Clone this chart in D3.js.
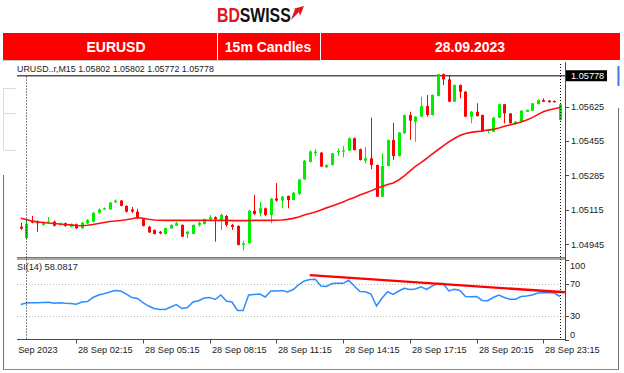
<!DOCTYPE html>
<meta charset="utf-8">
<head>
<meta charset="utf-8">
<title>EURUSD 15m Candles</title>
<style>
body { margin: 0; background: #fff; }
svg text { font-family: 'Liberation Sans', Arial, sans-serif; }
</style>
</head>
<body>
<div id="chart"></div>
<script src="https://cdn.jsdelivr.net/npm/d3@7/dist/d3.min.js"></script>
<script>

// bar 0 = 27 Sep 23:45, bar 1 = 28 Sep 00:00 ... bar 97 = 29 Sep 00:00 (M15)
var open = [1.05032,1.04976,1.05062,1.05057,1.05041,1.05053,1.05057,1.05041,1.05049,1.05032,
  1.05044,1.05024,1.05049,1.05057,1.05101,1.05118,1.05118,1.05153,1.05161,1.05135,
  1.05117,1.05106,1.05069,1.05032,1.05016,1.05007,1.04996,1.05024,1.05037,1.05041,
  1.04996,1.04996,1.05041,1.05045,1.05069,1.05079,1.05065,1.05085,1.05041,1.05036,
  1.04942,1.04950,1.05111,1.05098,1.05123,1.05090,1.05172,1.05161,1.05184,1.05164,
  1.05194,1.05266,1.05352,1.05395,1.05398,1.05326,1.05337,1.05401,1.05404,1.05408,
  1.05469,1.05415,1.05358,1.05370,1.05337,1.05180,1.05332,1.05460,1.05381,1.05494,
  1.05584,1.05551,1.05576,1.05628,1.05584,1.05678,1.05786,1.05760,1.05650,1.05732,
  1.05699,1.05576,1.05600,1.05584,1.05505,1.05501,1.05571,1.05637,1.05592,1.05539,
  1.05551,1.05600,1.05605,1.05638,1.05658,1.05655,1.05653,1.05559]
var high = [1.05052,1.05065,1.05085,1.05063,1.05058,1.05080,1.05063,1.05053,1.05053,1.05048,
  1.05048,1.05055,1.05070,1.05105,1.05122,1.05127,1.05154,1.05167,1.05164,1.05137,
  1.05129,1.05120,1.05073,1.05036,1.05018,1.05011,1.05028,1.05043,1.05057,1.05043,
  1.05011,1.05043,1.05057,1.05073,1.05090,1.05083,1.05098,1.05090,1.05045,1.05038,
  1.04962,1.05115,1.05189,1.05156,1.05127,1.05174,1.05247,1.05184,1.05186,1.05204,
  1.05268,1.05362,1.05409,1.05416,1.05401,1.05339,1.05396,1.05419,1.05431,1.05473,
  1.05473,1.05418,1.05426,1.05571,1.05339,1.05395,1.05463,1.05546,1.05500,1.05586,
  1.05600,1.05579,1.05674,1.05683,1.05685,1.05786,1.05789,1.05782,1.05735,1.05735,
  1.05703,1.05604,1.05642,1.05586,1.05515,1.05574,1.05638,1.05638,1.05594,1.05554,
  1.05609,1.05611,1.05643,1.05661,1.05666,1.05658,1.05656,1.05641]
var low = [1.05016,1.04971,1.05049,1.05007,1.05036,1.05048,1.05033,1.05036,1.05031,1.05028,
  1.05021,1.05021,1.05045,1.05053,1.05097,1.05115,1.05115,1.05149,1.05132,1.05102,
  1.05100,1.05070,1.05033,1.05001,1.04994,1.04994,1.04994,1.05021,1.05036,1.04981,
  1.04975,1.04994,1.05032,1.05043,1.05065,1.04958,1.05016,1.05032,1.05016,1.04939,
  1.04914,1.04947,1.05090,1.05082,1.05085,1.05049,1.05156,1.05123,1.05123,1.05162,
  1.05189,1.05263,1.05349,1.05381,1.05327,1.05322,1.05334,1.05381,1.05375,1.05406,
  1.05409,1.05359,1.05345,1.05316,1.05179,1.05179,1.05330,1.05362,1.05379,1.05490,
  1.05460,1.05452,1.05574,1.05576,1.05581,1.05675,1.05732,1.05648,1.05648,1.05666,
  1.05574,1.05543,1.05576,1.05500,1.05495,1.05500,1.05569,1.05543,1.05542,1.05535,
  1.05549,1.05599,1.05604,1.05636,1.05648,1.05646,1.05646,1.05557]
var close = [1.05022,1.05045,1.05052,1.05049,1.05054,1.05058,1.05037,1.05049,1.05036,1.05044,
  1.05024,1.05052,1.05065,1.05101,1.05118,1.05123,1.05151,1.05161,1.05135,1.05106,
  1.05107,1.05074,1.05036,1.05004,1.04996,1.04999,1.05024,1.05041,1.05049,1.04983,
  1.05007,1.05041,1.05052,1.05069,1.05079,1.05069,1.05090,1.05041,1.05031,1.04942,
  1.04950,1.05111,1.05095,1.05123,1.05090,1.05170,1.05161,1.05180,1.05164,1.05200,
  1.05266,1.05358,1.05404,1.05403,1.05329,1.05337,1.05395,1.05406,1.05409,1.05469,
  1.05411,1.05362,1.05370,1.05337,1.05180,1.05332,1.05460,1.05381,1.05497,1.05584,
  1.05556,1.05576,1.05628,1.05584,1.05683,1.05786,1.05760,1.05650,1.05732,1.05699,
  1.05576,1.05600,1.05579,1.05501,1.05512,1.05571,1.05637,1.05592,1.05543,1.05551,
  1.05605,1.05609,1.05642,1.05658,1.05650,1.05647,1.05647,1.05637]
var movingAvg = [1.05074,1.05068,1.05060,1.05056,1.05053,1.05050,1.05048,1.05045,1.05043,1.05041,
  1.05038,1.05037,1.05039,1.05043,1.05048,1.05053,1.05058,1.05060,1.05063,1.05066,
  1.05071,1.05077,1.05074,1.05069,1.05065,1.05064,1.05063,1.05063,1.05063,1.05063,
  1.05063,1.05063,1.05063,1.05063,1.05063,1.05063,1.05063,1.05063,1.05062,1.05062,
  1.05062,1.05062,1.05063,1.05063,1.05063,1.05063,1.05064,1.05065,1.05068,1.05073,
  1.05080,1.05090,1.05097,1.05105,1.05115,1.05125,1.05134,1.05144,1.05154,1.05167,
  1.05176,1.05189,1.05199,1.05209,1.05221,1.05231,1.05241,1.05248,1.05263,1.05283,
  1.05307,1.05330,1.05349,1.05369,1.05391,1.05411,1.05431,1.05451,1.05468,1.05483,
  1.05493,1.05498,1.05502,1.05505,1.05510,1.05513,1.05520,1.05528,1.05535,1.05542,
  1.05549,1.05559,1.05571,1.05586,1.05600,1.05609,1.05615,1.05621]
var rsi = [44.0,45.9,46.3,46.3,46.5,46.8,45.5,46.3,45.5,45.3,
  44.3,47.2,47.8,52.8,56.0,57.6,59.7,61.6,61.0,57.2,
  52.8,51.6,46.5,42.1,39.0,37.7,37.7,40.9,44.0,39.0,
  40.3,47.2,48.8,52.2,52.8,50.3,56.0,48.4,47.2,36.5,
  36.5,56.0,56.6,57.2,53.5,61.0,61.0,61.6,59.7,62.9,
  68.6,73.6,75.5,75.7,67.3,66.7,70.4,70.7,70.7,74.5,
  67.3,60.4,60.1,57.2,42.1,52.2,60.1,56.6,61.0,64.4,
  62.9,63.5,66.4,63.1,67.3,70.4,70.4,61.0,63.1,61.6,
  54.1,53.8,54.1,49.1,48.8,52.8,56.0,52.8,50.6,50.6,
  54.1,54.7,56.0,58.5,58.9,58.9,58.5,54.1]

// RSI trend line: [bar, value]
var rsiTrend = [[52, 81.0], [97.9, 59.4]]

var priceTicks = [1.05625, 1.05455, 1.05285, 1.05115, 1.04945]
var lastPrice = 1.05778
var rsiTicks = [100, 70, 30, 0]
var rsiLevels = [70, 30]
var timeTicks = ['02:15', '05:15', '08:15', '11:15', '14:15', '17:15', '20:15', '23:15']
var firstDateLabel = '28 Sep 2023'
var separatorBars = [1, 97]

var headerText = 'URUSD..r,M15  1.05802 1.05802 1.05772 1.05778'
var rsiText = 'SI(14) 58.0817'
var banner = [
  {label: 'EURUSD', x0: 3, x1: 217, cx: 116},
  {label: '15m Candles', x0: 217, x1: 320, cx: 268},
  {label: '28.09.2023', x0: 320, x1: 620, cx: 470}
]

var width = 624, height = 373
var left = 17, right = 565
var bull = '#00ee00', bear = '#ff0000', axisCol = '#4a4a4a'

var svg = d3.select('#chart').append('svg')
  .attr('width', width).attr('height', height)

var x = d3.scaleLinear().domain([-0.665, 97.906]).range([left, right])
var y = d3.scaleLinear().domain([1.04945, 1.05625]).range([244.3, 106.7])
var yR = d3.scaleLinear().domain([0, 100]).range([339.5, 260])

function px(i) { return Math.round(x(i)) + 0.5 }
function barOf(t) { var p = t.split(':'); return 1 + (+p[0] * 60 + +p[1]) / 15 }

// logo
var logo = svg.append('text').attr('transform', 'translate(217,22) scale(0.81,1)')
  .attr('font-size', 19.5).attr('font-weight', 'bold')
logo.append('tspan').attr('fill', '#e3161c').text('BD')
logo.append('tspan').attr('fill', '#111').text('SWISS')
svg.append('path').attr('d', 'M291,20 L295,9 L293,9 L304,6 L300,16 L299,12 Z').attr('fill', '#e3161c')

// red banner
svg.selectAll('.cell').data(banner).enter().append('rect')
  .attr('class', 'cell')
  .attr('x', function (d) { return d.x0 }).attr('y', 33)
  .attr('width', function (d) { return d.x1 - d.x0 }).attr('height', 27)
  .attr('fill', '#ff0000')
svg.selectAll('.divider').data(banner.slice(1)).enter().append('line')
  .attr('x1', function (d) { return d.x0 + 0.5 }).attr('x2', function (d) { return d.x0 + 0.5 })
  .attr('y1', 33).attr('y2', 60).attr('stroke', '#fff')
svg.selectAll('.blabel').data(banner).enter().append('text')
  .attr('x', function (d) { return d.cx }).attr('y', 51.5)
  .attr('text-anchor', 'middle').attr('font-size', 14).attr('font-weight', 'bold')
  .attr('fill', '#fff').text(function (d) { return d.label })
svg.append('line').attr('x1', 3).attr('x2', 320).attr('y1', 60.5).attr('y2', 60.5).attr('stroke', '#c8c8c8')

// window frame fragments
var frame = svg.append('g').attr('stroke', '#707070').attr('fill', 'none')
frame.append('line').attr('x1', 3.5).attr('x2', 3.5).attr('y1', 175).attr('y2', 369)
frame.append('line').attr('x1', 3).attr('x2', 619).attr('y1', 369.5).attr('y2', 369.5).attr('stroke', '#8a8a8a')
frame.append('line').attr('x1', 618.5).attr('x2', 618.5).attr('y1', 108).attr('y2', 369)
frame.append('line').attr('x1', 618.5).attr('x2', 618.5).attr('y1', 66).attr('y2', 86)
  .attr('stroke', '#3b7dd8').attr('stroke-width', 2)
svg.append('path').attr('d', 'M3.5,88.5 H16 M3.5,113.5 H16 M3.5,150.5 H16 M3.5,88 V150')
  .attr('stroke', '#dcdcdc').attr('fill', 'none')

// header text
svg.append('text').attr('x', left).attr('y', 72).attr('font-size', 8.9).attr('fill', '#222').text(headerText)

// clip for main panel
svg.append('clipPath').attr('id', 'mainClip').append('rect')
  .attr('x', left).attr('y', 62).attr('width', right - left).attr('height', 195)

// current price line
svg.append('line').attr('x1', left).attr('x2', right).attr('y1', y(lastPrice)).attr('y2', y(lastPrice))
  .attr('stroke', '#555').attr('stroke-width', 1.5)

var bars = d3.range(open.length)
var main = svg.append('g').attr('clip-path', 'url(#mainClip)')

main.selectAll('.wick').data(bars).enter().append('line')
  .attr('x1', px).attr('x2', px)
  .attr('y1', function (i) { return y(high[i]) }).attr('y2', function (i) { return y(low[i]) })
  .attr('stroke', function (i) { return close[i] >= open[i] ? bull : bear })

main.selectAll('.body').data(bars).enter().append('rect')
  .attr('x', function (i) { return Math.round(x(i)) - 1 })
  .attr('width', 3)
  .attr('y', function (i) { return Math.min(y(open[i]), y(close[i])) })
  .attr('height', function (i) { return Math.max(1.2, Math.abs(y(open[i]) - y(close[i]))) })
  .attr('fill', function (i) { return close[i] >= open[i] ? bull : bear })

main.append('path').datum(bars)
  .attr('d', d3.line().x(function (i) { return x(i) }).y(function (i) { return y(movingAvg[i]) }))
  .attr('fill', 'none').attr('stroke', '#ff1010').attr('stroke-width', 1.6)

// panel separator
svg.append('rect').attr('x', left).attr('y', 257).attr('width', right - left + 1).attr('height', 3).attr('fill', '#a8a8a8')
svg.append('line').attr('x1', left).attr('x2', right).attr('y1', 257.5).attr('y2', 257.5).attr('stroke', '#777')

// RSI panel
svg.selectAll('.lvl').data(rsiLevels).enter().append('line')
  .attr('x1', left).attr('x2', right)
  .attr('y1', function (d) { return Math.round(yR(d)) + 0.5 }).attr('y2', function (d) { return Math.round(yR(d)) + 0.5 })
  .attr('stroke', '#bdbdbd').attr('stroke-dasharray', '1,2')

svg.append('path').datum(bars)
  .attr('d', d3.line().x(function (i) { return x(i) }).y(function (i) { return yR(rsi[i]) }))
  .attr('fill', 'none').attr('stroke', '#2d8cff').attr('stroke-width', 1.5)

svg.append('line')
  .attr('x1', x(rsiTrend[0][0])).attr('y1', yR(rsiTrend[0][1]))
  .attr('x2', x(rsiTrend[1][0])).attr('y2', yR(rsiTrend[1][1]))
  .attr('stroke', '#ff0000').attr('stroke-width', 2.4)

svg.append('text').attr('x', left).attr('y', 269.5).attr('font-size', 9.2).attr('fill', '#222').text(rsiText)

// day separators
svg.selectAll('.sep').data(separatorBars).enter().append('line')
  .attr('x1', px).attr('x2', px)
  .attr('y1', function (d, k) { return k === 0 ? 76.5 : 64 }).attr('y2', 339)
  .attr('stroke', '#111').attr('stroke-dasharray', '1,2')

// axes frame
svg.append('line').attr('x1', right + 0.5).attr('x2', right + 0.5).attr('y1', 62).attr('y2', 340)
  .attr('stroke', axisCol)
svg.append('line').attr('x1', left).attr('x2', right + 1).attr('y1', 339.5).attr('y2', 339.5)
  .attr('stroke', axisCol)

// price axis
var pa = svg.append('g')
pa.selectAll('line').data(priceTicks).enter().append('line')
  .attr('x1', right).attr('x2', right + 4)
  .attr('y1', function (d) { return Math.round(y(d)) + 0.5 }).attr('y2', function (d) { return Math.round(y(d)) + 0.5 })
  .attr('stroke', axisCol)
pa.selectAll('text').data(priceTicks).enter().append('text')
  .attr('x', right + 6).attr('y', function (d) { return y(d) + 3.3 })
  .attr('font-size', 9.2).attr('fill', '#1a1a1a').text(function (d) { return d.toFixed(5) })

svg.append('rect').attr('x', right + 1).attr('y', y(lastPrice) - 5.5).attr('width', 41).attr('height', 11).attr('fill', '#000')
svg.append('text').attr('x', right + 6).attr('y', y(lastPrice) + 3.3).attr('font-size', 9.2)
  .attr('fill', '#fff').text(lastPrice.toFixed(5))

// RSI axis
var ra = svg.append('g')
ra.selectAll('line').data(rsiTicks).enter().append('line')
  .attr('x1', right).attr('x2', right + 4)
  .attr('y1', function (d) { return Math.round(yR(d)) + 0.5 }).attr('y2', function (d) { return Math.round(yR(d)) + 0.5 })
  .attr('stroke', axisCol)
ra.selectAll('text').data(rsiTicks).enter().append('text')
  .attr('x', right + 5)
  .attr('y', function (d) { return d === 100 ? yR(d) + 8.5 : d === 0 ? yR(d) - 1.5 : yR(d) + 3.3 })
  .attr('font-size', 9.2).attr('fill', '#1a1a1a').text(function (d) { return d })

// time axis
svg.append('clipPath').attr('id', 'timeClip').append('rect')
  .attr('x', left).attr('y', 340).attr('width', width - left).attr('height', 20)
var ta = svg.append('g').attr('clip-path', 'url(#timeClip)')
ta.append('text').attr('x', 57.5).attr('y', 352.5).attr('text-anchor', 'end')
  .attr('font-size', 9.2).attr('fill', '#1a1a1a').text(firstDateLabel)
var tick = ta.selectAll('.tt').data(timeTicks).enter().append('g')
tick.append('line')
  .attr('x1', function (d) { return px(barOf(d)) }).attr('x2', function (d) { return px(barOf(d)) })
  .attr('y1', 339.5).attr('y2', 343.5).attr('stroke', axisCol)
tick.append('text')
  .attr('x', function (d) { return px(barOf(d)) + 1.5 }).attr('y', 352.5)
  .attr('font-size', 9.2).attr('fill', '#1a1a1a').text(function (d) { return '28 Sep ' + d })

</script>
</body>
